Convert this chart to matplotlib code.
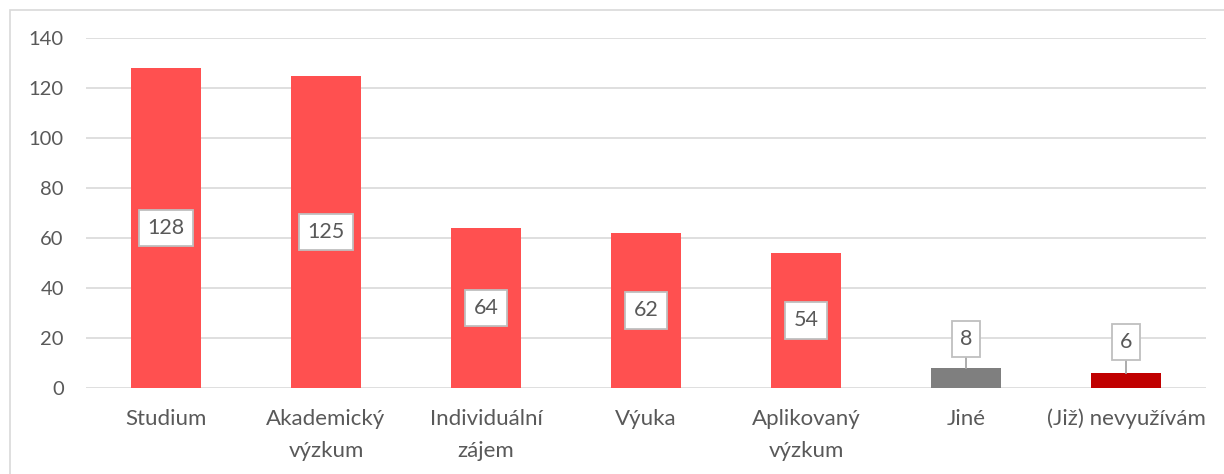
import matplotlib.pyplot as plt
import numpy as np
from matplotlib.patches import Rectangle

categories = ["Studium", "Akademický\nvýzkum", "Individuální\nzájem", "Výuka",
              "Aplikovaný\nvýzkum", "Jiné", "(Již) nevyužívám"]
values = [128, 125, 64, 62, 54, 8, 6]
colors = ["#FF5050"] * 5 + ["#7F7F7F", "#C00000"]

plt.rcParams['font.family'] = ['Lato', 'DejaVu Sans']
text_color = "#595959"

fig = plt.figure(figsize=(12.24, 4.74), dpi=100)
ax = fig.add_axes([86 / 1224, 1 - 388 / 474, 1120 / 1224, 350 / 474])

# outer chart border
fig.patches.append(Rectangle((10 / 1224, -0.01), 1.2, 1 - 10 / 474 + 0.01,
                             transform=fig.transFigure, fill=False,
                             edgecolor="#D9D9D9", linewidth=1.2))

x = np.arange(len(categories))
ax.bar(x, values, width=0.44, color=colors, zorder=2)

ax.set_xlim(-0.5, len(categories) - 0.5)
ax.set_ylim(0, 140)
ax.set_yticks(range(0, 141, 20))
ax.yaxis.grid(True, color="#D9D9D9", linewidth=1.2, zorder=0)
ax.set_xticks(x)
ax.set_xticklabels(categories, linespacing=1.75, va="top")
ax.tick_params(axis="y", length=0, labelsize=14.5, colors=text_color, pad=16)
ax.tick_params(axis="x", length=0, labelsize=16, colors=text_color, pad=15)
for s in ax.spines.values():
    s.set_visible(False)

box = dict(boxstyle="square,pad=0.38", facecolor="white", edgecolor="#BFBFBF", linewidth=1.3)
for xi, v in zip(x, values):
    if v > 20:
        ax.text(xi, v / 2, str(v), ha="center", va="center", fontsize=15.5,
                color=text_color, bbox=box, zorder=4)
    else:
        ly = 19.5 if v == 8 else 18.5
        ax.plot([xi, xi], [v, ly - 5], color="#A6A6A6", linewidth=1.3, zorder=3)
        ax.text(xi, ly, str(v), ha="center", va="center", fontsize=15.5,
                color=text_color, bbox=box, zorder=4)

fig.savefig("out.png", dpi=100)
